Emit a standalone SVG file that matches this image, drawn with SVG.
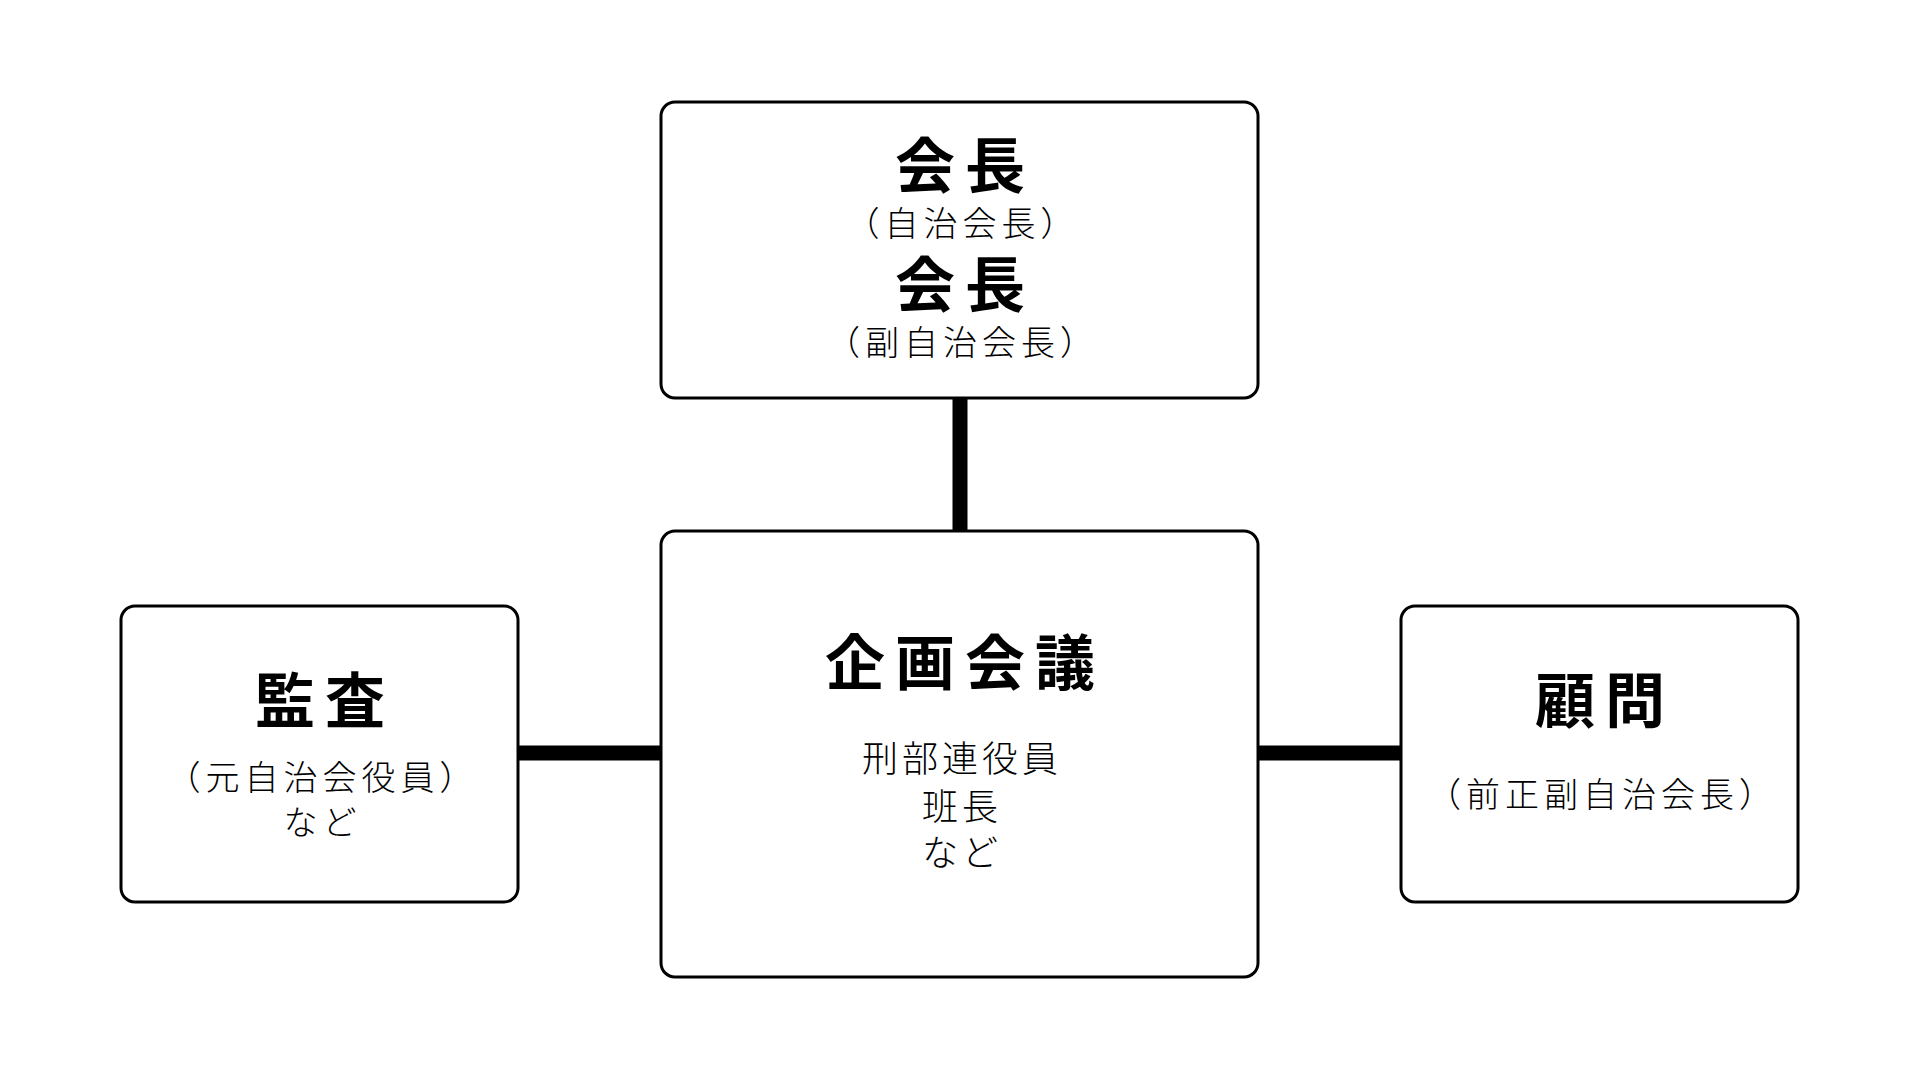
<svg xmlns="http://www.w3.org/2000/svg" width="1920" height="1080" viewBox="0 0 1920 1080">
<style>
.box{fill:#fff;stroke:#000;stroke-width:3}
.t{font-family:"Noto Sans CJK JP","Noto Sans CJK SC",sans-serif;fill:#000;text-anchor:middle}
.h{font-size:60px;font-weight:bold;letter-spacing:10px}
.s{font-size:34px;letter-spacing:5px;font-weight:300}
.c{font-size:36px;letter-spacing:4px;font-weight:300}
.conn{stroke:#000;stroke-width:15;fill:none}
</style>
<rect width="1920" height="1080" fill="#fff"/>
<g id="connectors">
<line class="conn" x1="960" y1="398" x2="960" y2="531"/>
<line class="conn" x1="518" y1="753" x2="661" y2="753"/>
<line class="conn" x1="1258" y1="753" x2="1401" y2="753"/>
</g>
<g id="node-kaicho">
<rect class="box" x="661" y="102" width="597" height="296" rx="14"/>
<text class="t h" x="965" y="188">会長</text>
<text class="t s" x="962.5" y="236">（自治会長）</text>
<text class="t h" x="965" y="307">会長</text>
<text class="t s" x="962.5" y="355">（副自治会長）</text>
</g>
<g id="node-kikaku">
<rect class="box" x="661" y="531" width="597" height="446" rx="14"/>
<text class="t h" x="965" y="685">企画会議</text>
<text class="t c" x="962" y="772">刑部連役員</text>
<text class="t c" x="962" y="820">班長</text>
<text class="t c" x="962" y="866">など</text>
</g>
<g id="node-kansa">
<rect class="box" x="121" y="606" width="397" height="296" rx="14"/>
<text class="t h" x="325" y="723">監査</text>
<text class="t s" x="322.5" y="790">（元自治会役員）</text>
<text class="t s" x="322.5" y="835">など</text>
</g>
<g id="node-komon">
<rect class="box" x="1401" y="606" width="397" height="296" rx="14"/>
<text class="t h" x="1605" y="723">顧問</text>
<text class="t s" x="1602.5" y="807">（前正副自治会長）</text>
</g>
</svg>
